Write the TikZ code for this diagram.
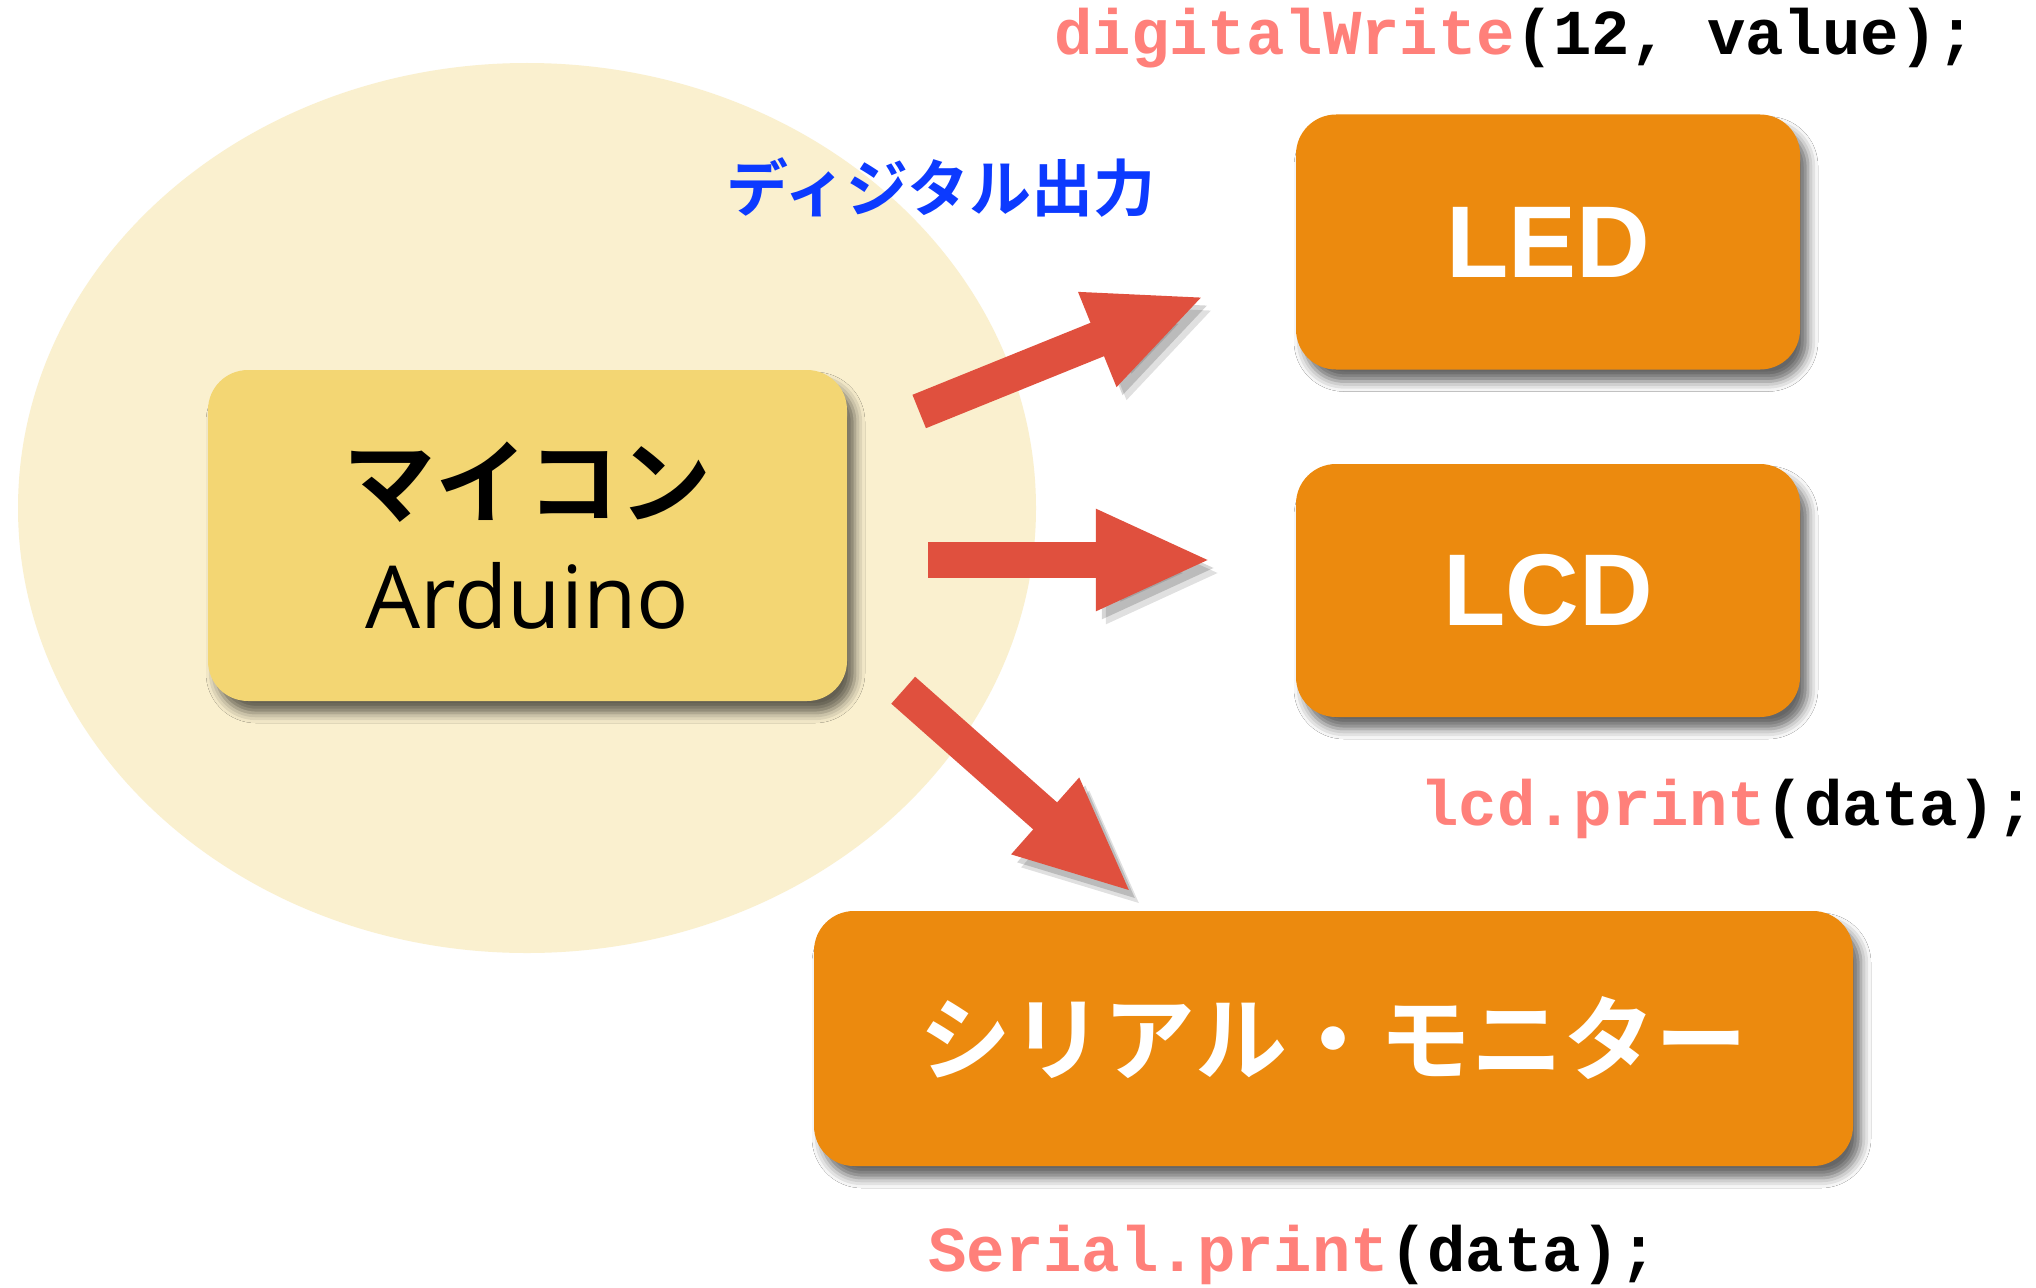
\documentclass[tikz,border=0pt]{standalone}
\usepackage{fontspec}
\setmainfont{Liberation Sans}
\newfontfamily\jpfont{Noto Sans CJK JP}[BoldFont={Noto Sans CJK JP Bold}]
\newfontfamily\codefont{Liberation Mono}
\newfontfamily\ardfont{Open Sans}
\usetikzlibrary{arrows.meta,positioning,shadows.blur}
\definecolor{eggshell}{RGB}{250,240,207}
\definecolor{mcyellow}{RGB}{243,214,115}
\definecolor{boxorange}{RGB}{236,138,14}
\definecolor{arrred}{RGB}{224,80,62}
\definecolor{codepink}{RGB}{255,128,122}
\definecolor{labelblue}{RGB}{12,58,255}

\begin{document}
\begin{tikzpicture}[x=1pt,y=-1pt,>={Triangle[length=116pt,width=93pt]},
  box/.style={rounded corners=40pt,minimum width=#1,minimum height=255pt,inner sep=0pt,
    blur shadow={shadow xshift=8pt,shadow yshift=-12pt,shadow blur radius=10pt,shadow opacity=60}},
  outbox/.style={box=#1,fill=boxorange,text=white},
  fatarrow/.style={->,draw=arrred,line width=36pt,
    preaction={draw=black,opacity=0.12,transform canvas={shift={(10,13)}}},
    preaction={draw=black,opacity=0.16,transform canvas={shift={(6,8)}}}},
  code/.style={anchor=base west,inner sep=0pt,font=\codefont\bfseries\fontsize{64}{64}\selectfont}]
\useasboundingbox[fill=white] (0,0) rectangle (2036,1287);
% microcontroller area
\fill[eggshell] (527,508) ellipse [x radius=509pt,y radius=445pt];
\node[box=639pt,minimum height=331pt,fill=mcyellow,align=center,font=\fontsize{92}{112}\selectfont] (mc) at (527.5,535.5) {{\jpfont\bfseries マイコン}\\{\ardfont\fontsize{87}{112}\selectfont Arduino}};
\node[font=\jpfont\bfseries\fontsize{62}{62}\selectfont,text=labelblue] (dout) at (941,188) {ディジタル出力};
% outputs
\node[outbox=504pt,font=\bfseries\fontsize{102}{102}\selectfont] (led) at (1548,242) {LED};
\node[outbox=504pt,minimum height=253pt,font=\bfseries\fontsize{102}{102}\selectfont] (lcd) at (1548,590.5) {LCD};
\node[outbox=1039pt,font=\jpfont\bfseries\fontsize{92}{92}\selectfont] (sm) at (1333.5,1038.5) {シリアル・モニター};
\draw[fatarrow] ([shift={(72,-124)}]mc.east) -- ([shift={(-91,54)}]led.west);
\draw[fatarrow] ([shift={(81,24.5)}]mc.east) -- ([shift={(-84,-30.5)}]lcd.west);
\draw[fatarrow] ([shift={(56,-11)}]mc.south east) -- ([shift={(-201.5,-18)}]sm.north);
% code
\node[code] (dwcode) at (1054,55) {\textcolor{codepink}{digitalWrite}(12, value);};
\node[code] (lcdcode) at (1420,825) {\textcolor{codepink}{lcd.print}(data);};
\node[code] (sercode) at (928,1271) {\textcolor{codepink}{Serial.print}(data);};
\end{tikzpicture}
\end{document}
